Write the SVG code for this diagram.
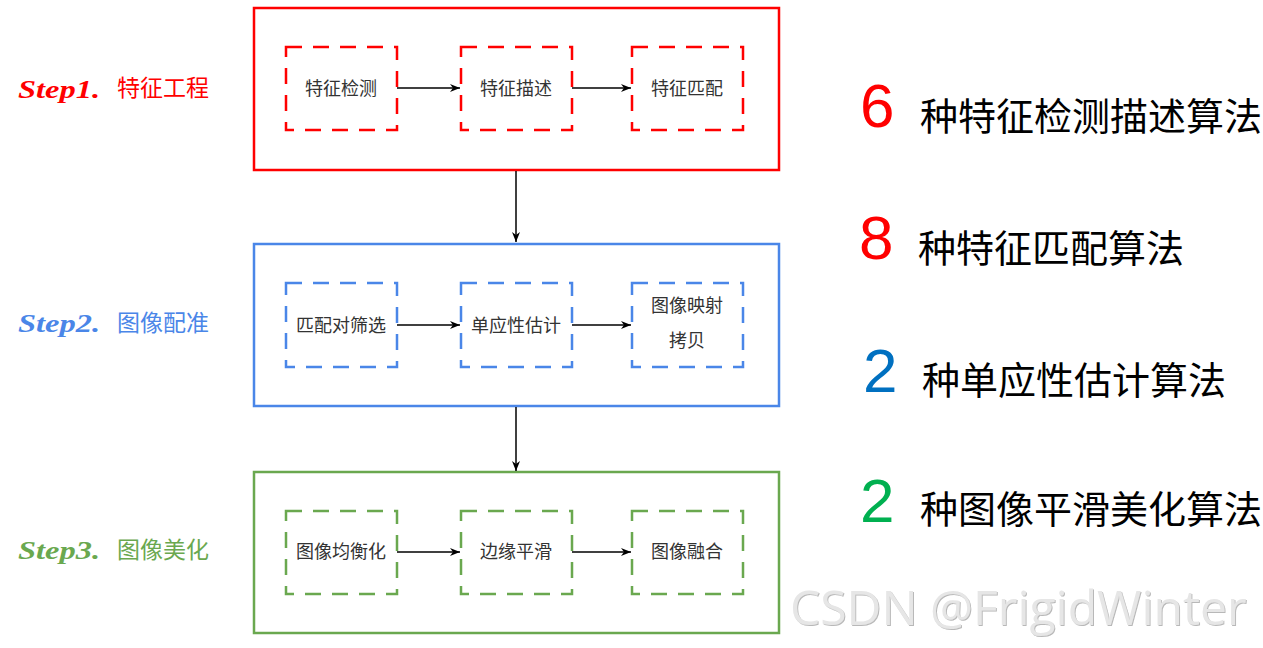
<svg xmlns="http://www.w3.org/2000/svg" width="1263" height="648" viewBox="0 0 1263 648">
<defs>
<marker id="ah" viewBox="0 0 10 10" refX="10" refY="5" markerWidth="10" markerHeight="10" markerUnits="userSpaceOnUse" orient="auto"><path d="M0,1 L10,5 L0,9 L3,5 z" fill="#000"/></marker>
<filter id="sh" x="-5%" y="-20%" width="110%" height="140%"><feDropShadow dx="1" dy="1" stdDeviation="0.6" flood-color="#888" flood-opacity="0.6"/></filter>
</defs>
<style>
.outer{fill:none;stroke-width:2.5}
.inner{fill:none;stroke-width:2.5;stroke-dasharray:16 11}
.red{stroke:#ff0000}.blue{stroke:#4a86e8}.green{stroke:#6aa84f}
.nt{font-family:"Noto Sans CJK SC","Noto Sans",sans-serif;font-size:18px;fill:#333;text-anchor:middle}
.step{font-family:"Liberation Serif",serif;font-style:italic;font-weight:bold;font-size:25px}
.stepc{font-family:"Noto Sans CJK SC",sans-serif;font-size:23px}
.num{font-family:"Liberation Sans","Noto Sans",sans-serif;font-size:62px}
.rt{font-family:"Noto Sans CJK SC",sans-serif;font-size:38px;fill:#000}
.conn{stroke:#000;stroke-width:1.5;fill:none;marker-end:url(#ah)}
</style>
<rect width="1263" height="648" fill="#fff"/>

<g id="step1">
<rect class="outer red" x="254" y="8" width="525" height="162"/>
<text class="step" x="18" y="98" fill="#ff0000" textLength="82" lengthAdjust="spacingAndGlyphs">Step1.</text>
<text class="stepc" x="117" y="96" fill="#ff0000">特征工程</text>
</g>
<g id="n11"><rect class="inner red" x="286" y="47" width="111" height="83"/><text class="nt" x="341" y="95">特征检测</text></g>
<g id="n12"><rect class="inner red" x="461" y="47" width="111" height="83"/><text class="nt" x="516" y="95">特征描述</text></g>
<g id="n13"><rect class="inner red" x="632" y="47" width="111" height="83"/><text class="nt" x="687" y="95">特征匹配</text></g>

<g id="step2">
<rect class="outer blue" x="254" y="244" width="525" height="162"/>
<text class="step" x="18" y="332" fill="#4a86e8" textLength="82" lengthAdjust="spacingAndGlyphs">Step2.</text>
<text class="stepc" x="117" y="331" fill="#4a86e8">图像配准</text>
</g>
<g id="n21"><rect class="inner blue" x="286" y="283" width="111" height="84"/><text class="nt" x="341" y="332">匹配对筛选</text></g>
<g id="n22"><rect class="inner blue" x="461" y="283" width="111" height="84"/><text class="nt" x="516" y="332">单应性估计</text></g>
<g id="n23"><rect class="inner blue" x="632" y="283" width="111" height="84"/><text class="nt" x="687" y="312">图像映射</text><text class="nt" x="687" y="347">拷贝</text></g>

<g id="step3">
<rect class="outer green" x="254" y="472" width="525" height="161"/>
<text class="step" x="18" y="559" fill="#6aa84f" textLength="82" lengthAdjust="spacingAndGlyphs">Step3.</text>
<text class="stepc" x="117" y="558" fill="#6aa84f">图像美化</text>
</g>
<g id="n31"><rect class="inner green" x="286" y="511" width="111" height="83"/><text class="nt" x="341" y="558">图像均衡化</text></g>
<g id="n32"><rect class="inner green" x="461" y="511" width="111" height="83"/><text class="nt" x="516" y="558">边缘平滑</text></g>
<g id="n33"><rect class="inner green" x="632" y="511" width="111" height="83"/><text class="nt" x="687" y="558">图像融合</text></g>

<g id="connectors">
<line class="conn" x1="397" y1="88" x2="460" y2="88"/>
<line class="conn" x1="572" y1="88" x2="631" y2="88"/>
<line class="conn" x1="397" y1="325" x2="460" y2="325"/>
<line class="conn" x1="572" y1="325" x2="631" y2="325"/>
<line class="conn" x1="397" y1="552" x2="460" y2="552"/>
<line class="conn" x1="572" y1="552" x2="631" y2="552"/>
<line class="conn" x1="516" y1="171" x2="516" y2="242"/>
<line class="conn" x1="516" y1="407" x2="516" y2="471"/>
</g>

<g id="stats">
<text class="num" x="860" y="127" fill="#ff0000">6</text>
<text class="rt" x="920" y="130">种特征检测描述算法</text>
<text class="num" x="859" y="259" fill="#ff0000">8</text>
<text class="rt" x="918" y="262">种特征匹配算法</text>
<text class="num" x="863" y="392" fill="#0070c0">2</text>
<text class="rt" x="922" y="394">种单应性估计算法</text>
<text class="num" x="860" y="522" fill="#00b050">2</text>
<text class="rt" x="920" y="523">种图像平滑美化算法</text>
</g>

<text x="790" y="625" font-family="Open Sans,sans-serif" font-size="48" fill="#e6e6e6" filter="url(#sh)">CSDN @FrigidWinter</text>
</svg>
